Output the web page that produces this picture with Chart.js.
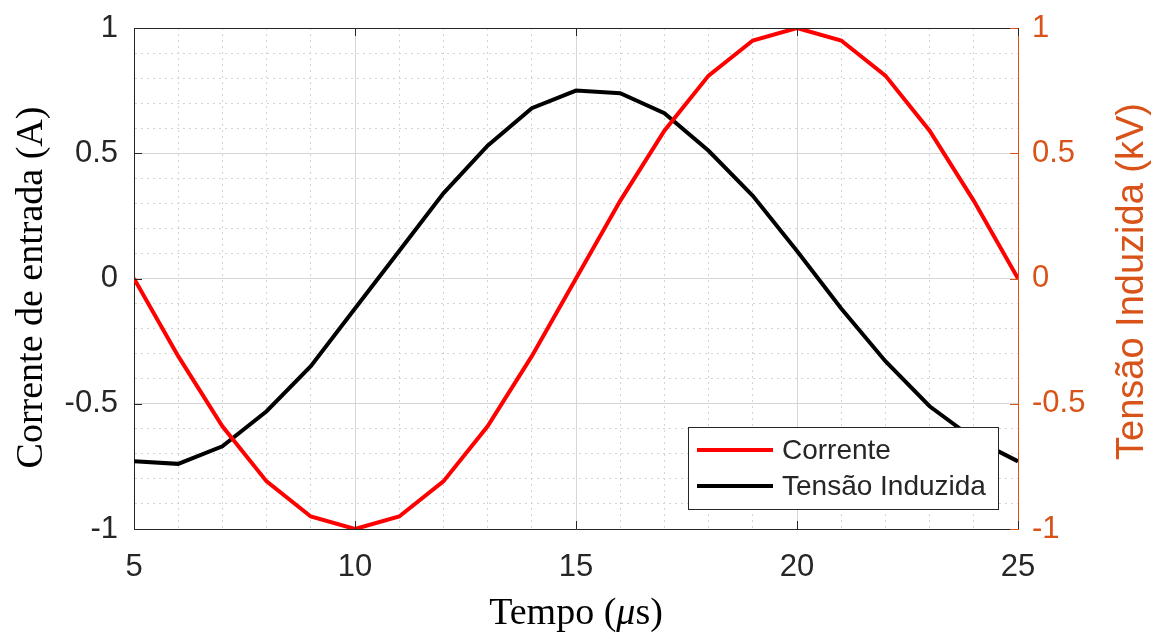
<!DOCTYPE html>
<html>
<head>
<meta charset="utf-8">
<script src="https://cdn.jsdelivr.net/npm/chart.js@4/dist/chart.umd.min.js"></script>
<style>
  html, body { margin: 0; padding: 0; background: #fff; }
  #wrap { width: 1155px; height: 639px; position: relative; }
</style>
</head>
<body>
<div id="wrap"><canvas id="grafico"></canvas></div>
<script>
// tempo em microssegundos
var tempo = [5, 6, 7, 8, 9, 10, 11, 12, 13, 14, 15, 16, 17, 18, 19, 20, 21, 22, 23, 24, 25];
// corrente de entrada (A)
var corrente = [0, -0.31, -0.59, -0.81, -0.95, -1, -0.95, -0.81, -0.59, -0.31, 0,
                0.31, 0.59, 0.81, 0.95, 1, 0.95, 0.81, 0.59, 0.31, 0];
// tensao induzida (kV)
var tensao = [-0.73, -0.74, -0.67, -0.53, -0.35, -0.12, 0.11, 0.34, 0.53, 0.68, 0.75,
              0.74, 0.66, 0.51, 0.33, 0.11, -0.12, -0.33, -0.51, -0.64, -0.73];

var rotuloX = ['5', '10', '15', '20', '25'];
var rotuloY = ['-1', '-0.5', '0', '0.5', '1'];

var laranja = '#D95319';
var escuro = '#262626';
var sans = "'Liberation Sans', Arial, sans-serif";
var serif = "'Liberation Serif', 'Times New Roman', serif";

function ehMaior(v, passo) {
  var r = Math.round(v / passo);
  return Math.abs(v - r * passo) < 1e-6;
}
function rotulo(lista, passo) {
  return function (v) {
    if (!ehMaior(v, passo)) return '';
    var txt = String(Math.round(v * 10) / 10);
    if (txt === '-0') txt = '0';
    return lista.indexOf(txt) >= 0 ? txt : '';
  };
}
function gradeCor(passo) {
  return function (c) {
    if (!c.tick) return '#dcdcdc';
    return ehMaior(c.tick.value, passo) ? '#d6d6d6' : '#d4d4d4';
  };
}
function gradeTraco(passo) {
  return function (c) {
    if (!c.tick) return [];
    return ehMaior(c.tick.value, passo) ? [] : [2, 4];
  };
}
// tamanho fixo dos eixos, sem folga extra para os rotulos
function fixaLargura(w) {
  return function (s) { s.width = w; s.paddingTop = 0; s.paddingBottom = 0; };
}

// titulos dos eixos, marcas internas, borda de cima e legenda
var extras = {
  id: 'extras',
  afterDatasetsDraw: function (chart) {
    var ctx = chart.ctx;
    var a = chart.chartArea;
    var sx = chart.scales.x, sy = chart.scales.y, sy1 = chart.scales.y1;
    ctx.save();

    // borda superior
    ctx.strokeStyle = escuro;
    ctx.lineWidth = 1;
    ctx.beginPath();
    ctx.moveTo(a.left, a.top + 0.5);
    ctx.lineTo(a.right, a.top + 0.5);
    ctx.stroke();

    // marcas internas
    var L = 8;
    ctx.beginPath();
    sx.ticks.forEach(function (t) {
      if (!ehMaior(t.value, 5)) return;
      var px = Math.round(sx.getPixelForValue(t.value)) + 0.5;
      ctx.moveTo(px, a.bottom); ctx.lineTo(px, a.bottom - L);
      ctx.moveTo(px, a.top); ctx.lineTo(px, a.top + L);
    });
    sy.ticks.forEach(function (t) {
      if (!ehMaior(t.value, 0.5)) return;
      var py = Math.round(sy.getPixelForValue(t.value)) + 0.5;
      ctx.moveTo(a.left, py); ctx.lineTo(a.left + L, py);
    });
    ctx.stroke();
    ctx.strokeStyle = laranja;
    ctx.beginPath();
    sy1.ticks.forEach(function (t) {
      if (!ehMaior(t.value, 0.5)) return;
      var py = Math.round(sy1.getPixelForValue(t.value)) + 0.5;
      ctx.moveTo(a.right, py); ctx.lineTo(a.right - L, py);
    });
    ctx.stroke();

    // legenda
    var bw = 310, bh = 82;
    var bx = a.right - 20 - bw, by = a.bottom - 20 - bh;
    ctx.fillStyle = '#fff';
    ctx.fillRect(bx, by, bw, bh);
    ctx.strokeStyle = escuro;
    ctx.lineWidth = 1;
    ctx.strokeRect(bx + 0.5, by + 0.5, bw, bh);
    ctx.font = '28px ' + sans;
    ctx.textBaseline = 'middle';
    ctx.textAlign = 'left';
    chart.data.datasets.forEach(function (ds, i) {
      var ly = by + 23 + i * 36;
      ctx.strokeStyle = ds.borderColor;
      ctx.lineWidth = 4;
      ctx.beginPath();
      ctx.moveTo(bx + 9, ly);
      ctx.lineTo(bx + 85, ly);
      ctx.stroke();
      ctx.fillStyle = escuro;
      ctx.fillText(ds.label, bx + 94, ly + 1);
    });

    // titulo eixo esquerdo
    var cy = (a.top + a.bottom) / 2;
    ctx.fillStyle = '#000';
    ctx.textAlign = 'center';
    ctx.textBaseline = 'middle';
    ctx.save();
    ctx.translate(32, cy + 9);
    ctx.rotate(-Math.PI / 2);
    ctx.font = '38px ' + serif;
    ctx.fillText('Corrente de entrada (A)', 0, 0);
    ctx.restore();

    // titulo eixo direito
    ctx.save();
    ctx.translate(1133, cy + 3);
    ctx.rotate(-Math.PI / 2);
    ctx.font = '38px ' + sans;
    ctx.fillStyle = laranja;
    ctx.fillText('Tensão Induzida (kV)', 0, 0);
    ctx.restore();

    // titulo eixo x com mu em italico
    var partes = [['Tempo (', '38px ' + serif], ['\u03bc', 'italic 38px ' + serif], ['s)', '38px ' + serif]];
    var total = 0;
    partes.forEach(function (p) { ctx.font = p[1]; total += ctx.measureText(p[0]).width; });
    var x0 = (a.left + a.right) / 2 - total / 2;
    ctx.textAlign = 'left';
    ctx.fillStyle = '#000';
    partes.forEach(function (p) {
      ctx.font = p[1];
      ctx.fillText(p[0], x0, 614);
      x0 += ctx.measureText(p[0]).width;
    });

    ctx.restore();
  }
};

var pontosCorrente = tempo.map(function (t, i) { return { x: t, y: corrente[i] }; });
var pontosTensao = tempo.map(function (t, i) { return { x: t, y: tensao[i] }; });

new Chart(document.getElementById('grafico'), {
  type: 'line',
  data: {
    datasets: [{
      label: 'Corrente',
      data: pontosCorrente,
      borderColor: '#ff0000',
      backgroundColor: '#ff0000',
      borderWidth: 4,
      pointRadius: 0,
      tension: 0,
      yAxisID: 'y'
    }, {
      label: 'Tensão Induzida',
      data: pontosTensao,
      borderColor: '#000000',
      backgroundColor: '#000000',
      borderWidth: 4,
      pointRadius: 0,
      tension: 0,
      yAxisID: 'y1'
    }]
  },
  options: {
    responsive: true,
    maintainAspectRatio: false,
    animation: false,
    layout: { padding: { top: 28, right: 0, left: 0, bottom: 0 } },
    plugins: { legend: { display: false }, tooltip: { enabled: false } },
    scales: {
      x: {
        type: 'linear',
        min: 5, max: 25,
        afterFit: function (s) { s.height = 110; s.paddingLeft = 0; s.paddingRight = 0; },
        ticks: {
          stepSize: 1, autoSkip: false, maxRotation: 0,
          padding: 20, color: escuro,
          font: { family: sans, size: 31 },
          callback: rotulo(rotuloX, 5)
        },
        grid: { color: gradeCor(5), lineWidth: 1, drawTicks: false },
        border: { color: escuro, width: 1, dash: gradeTraco(5) }
      },
      y: {
        type: 'linear', position: 'left',
        min: -1, max: 1,
        afterFit: fixaLargura(134),
        ticks: {
          stepSize: 0.1, autoSkip: false,
          padding: 16, color: escuro,
          font: { family: sans, size: 31 },
          callback: rotulo(rotuloY, 0.5)
        },
        grid: { color: gradeCor(0.5), lineWidth: 1, drawTicks: false },
        border: { color: escuro, width: 1, dash: gradeTraco(0.5) }
      },
      y1: {
        type: 'linear', position: 'right',
        min: -1, max: 1,
        afterFit: fixaLargura(137),
        ticks: {
          stepSize: 0.1, autoSkip: false,
          padding: 14, color: laranja,
          font: { family: sans, size: 31 },
          callback: rotulo(rotuloY, 0.5)
        },
        grid: { drawOnChartArea: false, drawTicks: false },
        border: { color: laranja, width: 1 }
      }
    }
  },
  plugins: [extras]
});
</script>
</body>
</html>
